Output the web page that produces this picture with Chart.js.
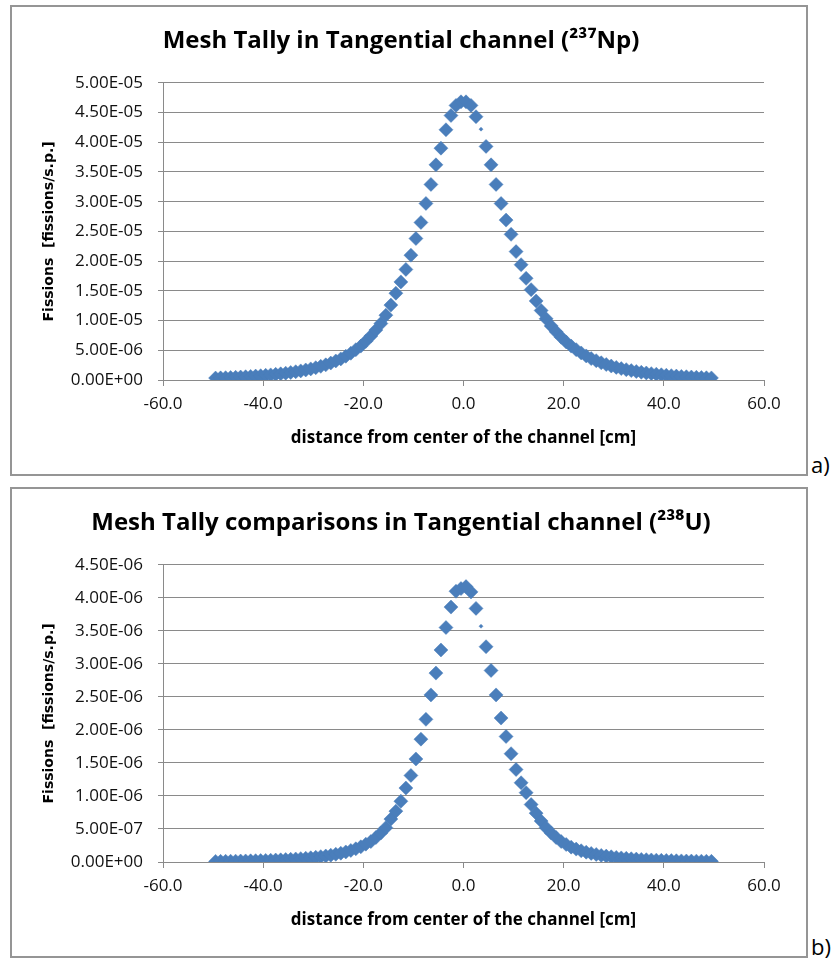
<!DOCTYPE html>
<html>
<head>
<meta charset="utf-8">
<script src="https://cdn.jsdelivr.net/npm/chart.js@4.4.1/dist/chart.umd.min.js"></script>
<style>
  body { margin: 0; background: #fff; width: 832px; height: 962px; position: relative; overflow: hidden; }
  .frame { position: absolute; left: 10px; width: 798px; height: 471px; box-sizing: border-box; border: 2px solid #959595; }
  canvas { position: absolute; }
  .tag { position: absolute; left: 811px; font-family: "Open Sans", sans-serif; font-size: 22px; color: #000; }
</style>
</head>
<body>
<div class="frame" style="top:5px"></div>
<div class="frame" style="top:487px"></div>
<canvas id="npChart" width="794" height="467" style="left:12px;top:7px"></canvas>
<canvas id="uChart" width="794" height="467" style="left:12px;top:489px"></canvas>
<div class="tag" style="top:449px">a)</div>
<div class="tag" style="top:931px">b)</div>
<script>
// mesh bin centres along the channel [cm]
const distanceCm = [
  -49.5, -48.5, -47.5, -46.5, -45.5, -44.5, -43.5, -42.5, -41.5, -40.5,
  -39.5, -38.5, -37.5, -36.5, -35.5, -34.5, -33.5, -32.5, -31.5, -30.5,
  -29.5, -28.5, -27.5, -26.5, -25.5, -24.5, -23.5, -22.5, -21.5, -20.5,
  -19.5, -18.5, -17.5, -16.5, -15.5, -14.5, -13.5, -12.5, -11.5, -10.5,
  -9.5, -8.5, -7.5, -6.5, -5.5, -4.5, -3.5, -2.5, -1.5, -0.5,
  0.5, 1.5, 2.5, 3.5, 4.5, 5.5, 6.5, 7.5, 8.5, 9.5,
  10.5, 11.5, 12.5, 13.5, 14.5, 15.5, 16.5, 17.5, 18.5, 19.5,
  20.5, 21.5, 22.5, 23.5, 24.5, 25.5, 26.5, 27.5, 28.5, 29.5,
  30.5, 31.5, 32.5, 33.5, 34.5, 35.5, 36.5, 37.5, 38.5, 39.5,
  40.5, 41.5, 42.5, 43.5, 44.5, 45.5, 46.5, 47.5, 48.5, 49.5
];

// fissions per source particle, 237Np
const npFissions = [
  3.3e-7, 3.6e-7, 3.9e-7, 4.2e-7, 4.6e-7, 5.0e-7, 5.5e-7, 6.0e-7, 6.6e-7, 7.2e-7,
  7.9e-7, 8.6e-7, 9.5e-7, 1.04e-6, 1.14e-6, 1.26e-6, 1.39e-6, 1.53e-6, 1.69e-6, 1.87e-6,
  2.07e-6, 2.30e-6, 2.55e-6, 2.85e-6, 3.20e-6, 3.55e-6, 4.00e-6, 4.50e-6, 5.10e-6, 5.70e-6,
  6.50e-6, 7.40e-6, 8.40e-6, 9.50e-6, 1.09e-5, 1.26e-5, 1.46e-5, 1.65e-5, 1.86e-5, 2.10e-5,
  2.38e-5, 2.65e-5, 2.97e-5, 3.29e-5, 3.62e-5, 3.90e-5, 4.21e-5, 4.45e-5, 4.62e-5, 4.68e-5,
  4.68e-5, 4.62e-5, 4.43e-5, 4.22e-5, 3.93e-5, 3.62e-5, 3.29e-5, 2.97e-5, 2.69e-5, 2.45e-5,
  2.16e-5, 1.94e-5, 1.71e-5, 1.52e-5, 1.33e-5, 1.17e-5, 1.03e-5, 9.10e-6, 8.10e-6, 7.20e-6,
  6.40e-6, 5.70e-6, 5.10e-6, 4.55e-6, 4.05e-6, 3.60e-6, 3.25e-6, 2.90e-6, 2.60e-6, 2.35e-6,
  2.12e-6, 1.92e-6, 1.74e-6, 1.58e-6, 1.43e-6, 1.30e-6, 1.18e-6, 1.07e-6, 9.7e-7, 8.8e-7,
  8.0e-7, 7.3e-7, 6.6e-7, 6.0e-7, 5.5e-7, 5.0e-7, 4.6e-7, 4.2e-7, 3.8e-7, 3.5e-7
];

// fissions per source particle, 238U
const uFissions = [
  9.0e-9, 1.0e-8, 1.1e-8, 1.2e-8, 1.3e-8, 1.5e-8, 1.6e-8, 1.8e-8, 2.0e-8, 2.2e-8,
  2.4e-8, 2.7e-8, 3.0e-8, 3.3e-8, 3.7e-8, 4.1e-8, 4.6e-8, 5.1e-8, 5.7e-8, 6.4e-8,
  7.2e-8, 8.1e-8, 9.1e-8, 1.03e-7, 1.17e-7, 1.33e-7, 1.52e-7, 1.75e-7, 2.00e-7, 2.30e-7,
  2.70e-7, 3.10e-7, 3.70e-7, 4.40e-7, 5.20e-7, 6.50e-7, 7.70e-7, 9.20e-7, 1.12e-6, 1.31e-6,
  1.56e-6, 1.86e-6, 2.16e-6, 2.53e-6, 2.86e-6, 3.21e-6, 3.55e-6, 3.86e-6, 4.10e-6, 4.14e-6,
  4.17e-6, 4.09e-6, 3.84e-6, 3.57e-6, 3.26e-6, 2.90e-6, 2.53e-6, 2.18e-6, 1.90e-6, 1.64e-6,
  1.40e-6, 1.20e-6, 1.05e-6, 8.70e-7, 7.40e-7, 6.20e-7, 5.20e-7, 4.40e-7, 3.70e-7, 3.10e-7,
  2.65e-7, 2.25e-7, 1.95e-7, 1.70e-7, 1.48e-7, 1.30e-7, 1.14e-7, 1.00e-7, 8.9e-8, 7.9e-8,
  7.0e-8, 6.2e-8, 5.5e-8, 4.9e-8, 4.4e-8, 3.9e-8, 3.5e-8, 3.1e-8, 2.8e-8, 2.5e-8,
  2.3e-8, 2.1e-8, 1.9e-8, 1.7e-8, 1.5e-8, 1.4e-8, 1.3e-8, 1.2e-8, 1.1e-8, 1.0e-8
];

// the one point Excel drew with a tiny marker
const tinyMarkerCm = 3.5;

const xTicks = { min: -60, max: 60, step: 20 };
const npTicks = { min: 0, max: 5e-5, step: 5e-6 };
const uTicks = { min: 0, max: 4.5e-6, step: 5e-7 };

const FONT = '"Open Sans", "Liberation Sans", sans-serif';
const GRID = '#8a8a8a';
const MARKER = '#4a7ebb';

function sci(v) {
    if (Math.abs(v) < 1e-15) return '0.00E+00';
    const parts = v.toExponential(2).split('e');
    const e = parseInt(parts[1], 10);
    return parts[0] + 'E' + (e < 0 ? '-' : '+') + String(Math.abs(e)).padStart(2, '0');
}

function makeChart(id, title, values, yTicks) {
    const tinyIdx = distanceCm.indexOf(tinyMarkerCm);
    const points = distanceCm.map((x, i) => ({ x: x, y: values[i] }));

    return new Chart(document.getElementById(id), {
        type: 'scatter',
        data: {
            datasets: [{
                label: 'mesh tally',
                data: points,
                pointStyle: 'rectRot',
                pointRadius: ctx => ctx.dataIndex === tinyIdx ? 2 : 7,
                backgroundColor: MARKER,
                borderColor: MARKER,
                borderWidth: 0.5
            }]
        },
        options: {
            responsive: false,
            animation: false,
            layout: {
                padding: { left: 26, right: 42, top: 10, bottom: 22 }
            },
            plugins: {
                legend: { display: false },
                tooltip: { enabled: false },
                title: {
                    display: true,
                    text: title,
                    color: '#000',
                    font: { family: FONT, size: 24, weight: 'bold' },
                    padding: { top: 10, bottom: 27 }
                }
            },
            scales: {
                x: {
                    type: 'linear',
                    min: xTicks.min,
                    max: xTicks.max,
                    afterFit: s => { s.height = 72; },
                    ticks: {
                        stepSize: xTicks.step,
                        color: '#111',
                        padding: 8,
                        maxRotation: 0,
                        font: { family: FONT, size: 17 },
                        callback: v => v.toFixed(1)
                    },
                    grid: {
                        drawOnChartArea: false,
                        color: GRID,
                        tickLength: 6
                    },
                    border: { color: GRID, width: 1 },
                    title: {
                        display: true,
                        text: 'distance from center of the channel [cm]',
                        color: '#000',
                        font: { family: FONT, size: 17, weight: 'bold' },
                        padding: { top: 4, bottom: 4 }
                    }
                },
                y: {
                    min: yTicks.min,
                    max: yTicks.max,
                    afterFit: s => { s.width = 125; },
                    ticks: {
                        stepSize: yTicks.step,
                        color: '#111',
                        padding: 15,
                        font: { family: FONT, size: 17 },
                        callback: v => sci(v)
                    },
                    grid: {
                        color: GRID,
                        tickLength: 5
                    },
                    border: { color: GRID, width: 1 },
                    title: {
                        display: true,
                        text: 'Fissions  [fissions/s.p.]',
                        color: '#000',
                        font: { family: '"DejaVu Sans", sans-serif', size: 14, weight: 'bold' },
                        padding: { top: 3, bottom: 3 }
                    }
                }
            }
        }
    });
}

makeChart('npChart', 'Mesh Tally in Tangential channel (\u00B2\u00B3\u2077Np)', npFissions, npTicks);
makeChart('uChart', 'Mesh Tally comparisons in Tangential channel (\u00B2\u00B3\u2078U)', uFissions, uTicks);
</script>
</body>
</html>
